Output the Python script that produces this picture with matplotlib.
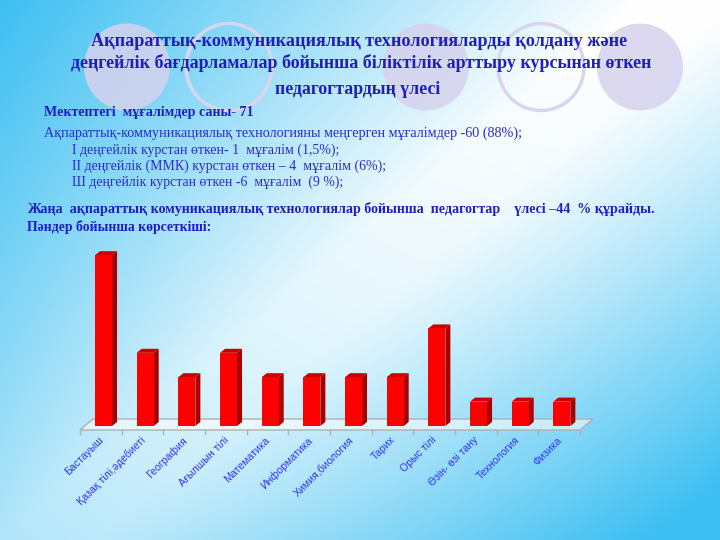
import numpy as np
import matplotlib
matplotlib.use("Agg")
import matplotlib.pyplot as plt
from matplotlib.patches import Ellipse, Polygon

# ---------------- data ----------------
categories = ["Бастауыш", "Қазақ тілі,әдебиеті", "География", "Ағылшын тілі",
              "Математика", "Информатика", "Химия,биология", "Тарих",
              "Орыс тілі", "Өзін- өзі тану", "Технология", "Физика"]
values = [7, 3, 2, 3, 2, 2, 2, 2, 4, 1, 1, 1]

title_lines = ["Ақпараттық-коммуникациялық технологияларды қолдану және",
               "деңгейлік бағдарламалар бойынша біліктілік арттыру курсынан өткен",
               "педагогтардың үлесі"]
info_lines = ["Мектептегі  мұғалімдер саны- 71",
              "Ақпараттық-коммуникациялық технологияны меңгерген мұғалімдер -60 (88%);",
              "І деңгейлік курстан өткен- 1  мұғалім (1,5%);",
              "ІІ деңгейлік (ММК) курстан өткен – 4  мұғалім (6%);",
              "Ш деңгейлік курстан өткен -6  мұғалім  (9 %);",
              "Жаңа  ақпараттық комуникациялық технологиялар бойынша  педагогтар    үлесі –44  % құрайды.",
              "Пәндер бойынша көрсеткіші:"]

# ---------------- figure ----------------
W, H = 720, 540
fig = plt.figure(figsize=(7.2, 5.4), dpi=100)
bg = fig.add_axes([0, 0, 1, 1])
bg.set_xlim(0, W)
bg.set_ylim(H, 0)
bg.axis("off")

# background gradient
u = np.linspace(0, 1, 360)[None, :]
v = np.linspace(0, 1, 270)[:, None]
w_tl = np.clip(1 - (u * 0.9 + v * 0.8) / 0.8, 0, 1) ** 1.0
w_br = np.clip(1 - ((1 - u) * 0.9 + (1 - v) * 0.8) / 0.78, 0, 1) ** 1.1
w = np.clip(np.maximum(w_tl, w_br) + 0.28 * v * (1 - u) ** 1.5 + 0.12 * v, 0, 1)
blue = np.array([0.24, 0.75, 0.95])
white = np.array([1.0, 1.0, 1.0])
img = white[None, None, :] * (1 - w[..., None]) + blue[None, None, :] * w[..., None]
bg.imshow(img, extent=[0, W, H, 0], aspect="auto", interpolation="bilinear", zorder=0)

# decorative circles
circ = [(127, True), (229, False), (426, True), (541, False), (640, True)]
for cx, filled in circ:
    if filled:
        bg.add_patch(Ellipse((cx, 67), 86, 87, facecolor="#d6d2ee", edgecolor="none",
                             alpha=0.85, zorder=1))
    else:
        bg.add_patch(Ellipse((cx, 67), 86, 87, facecolor="none", edgecolor="#d8d6ee",
                             lw=2.5, zorder=1))

renderer = fig.canvas.get_renderer()


def fitted_text(x, y, s, target_w, ha="left", **kw):
    t = bg.text(x, y, s, ha=ha, va="center", zorder=5, **kw)
    for _ in range(4):
        ww = t.get_window_extent(renderer).width
        t.set_fontsize(t.get_fontsize() * target_w / ww)
    return t


serif = ["Liberation Serif", "DejaVu Serif"]
title_col = "#1e1ec4"
text_col = "#2a2ad2"

# title
fitted_text(359, 42, title_lines[0], 532, ha="center", family=serif, weight="bold",
            color=title_col, fontsize=14)
fitted_text(361, 63, title_lines[1], 583, ha="center", family=serif, weight="bold",
            color=title_col, fontsize=14)
fitted_text(358, 90, title_lines[2], 165, ha="center", family=serif, weight="bold",
            color=title_col, fontsize=14)

# info text
fitted_text(44, 112, info_lines[0], 209, family=serif, weight="bold", color=title_col, fontsize=10)
fitted_text(44, 133, info_lines[1], 479, family=serif, color=text_col, fontsize=10)
fitted_text(72, 150, info_lines[2], 266, family=serif, color=text_col, fontsize=10)
fitted_text(72, 166, info_lines[3], 315, family=serif, color=text_col, fontsize=10)
fitted_text(72, 182, info_lines[4], 271, family=serif, color=text_col, fontsize=10)
fitted_text(27, 209, info_lines[5], 629, family=serif, weight="bold", color=title_col, fontsize=10)
fitted_text(27, 227, info_lines[6], 185, family=serif, weight="bold", color=title_col, fontsize=10)

# ---------------- bar chart ----------------
x_left, x_right = 80, 580          # pixel extents of category band
zero_px, unit_px = 426, 24.4       # baseline pixel and pixels per unit
bottom_px, top_px = 433, 231
ax = fig.add_axes([x_left / W, (H - bottom_px) / H, (x_right - x_left) / W,
                   (bottom_px - top_px) / H])
n = len(categories)
slot_px = (x_right - x_left) / n
ax.set_xlim(-0.5, n - 0.5)
ax.set_ylim(-(bottom_px - zero_px) / unit_px, (zero_px - top_px) / unit_px)
ax.axis("off")
ax.patch.set_alpha(0)

# floor
fy0 = -4 / unit_px
fdx, fdy = 13 / slot_px, 11 / unit_px
floor = Polygon([(-0.5, fy0), (n - 0.5, fy0), (n - 0.5 + fdx, fy0 + fdy), (-0.5 + fdx, fy0 + fdy)],
                closed=True, facecolor=(1, 1, 1, 0.55), edgecolor="#b0b0b0", lw=1,
                clip_on=False, zorder=1)
ax.add_patch(floor)
for k in range(n + 1):
    ax.plot([k - 0.5, k - 0.5], [fy0, fy0 - 3.5 / unit_px], color="#b0b0b0", lw=1,
            clip_on=False, zorder=1)

# bars with 3D faces
xs = np.arange(n)
bw = 17 / slot_px
xoff = 2.7 / slot_px
ddx, ddy = 5 / slot_px, 4 / unit_px
ax.bar(xs + xoff, values, width=bw, color="#ff0000", edgecolor="none", zorder=3)
for x, val in zip(xs + xoff, values):
    r = x + bw / 2
    l = x - bw / 2
    ax.add_patch(Polygon([(r, 0), (r + ddx, ddy), (r + ddx, val + ddy), (r, val)],
                         closed=True, facecolor="#a80000", edgecolor="none", zorder=2))
    ax.add_patch(Polygon([(l, val), (r, val), (r + ddx, val + ddy), (l + ddx, val + ddy)],
                         closed=True, facecolor="#c80000", edgecolor="none", zorder=2))

# category labels
lab_y = -(435 - zero_px) / unit_px
for x, lab in zip(xs, categories):
    ax.text(x - 0.06, lab_y, lab, rotation=45, ha="right", va="top", rotation_mode="anchor",
            fontsize=7.6, family=["Liberation Sans", "DejaVu Sans"], color="#3434f0",
            clip_on=False)

fig.savefig("out.png", dpi=100)
